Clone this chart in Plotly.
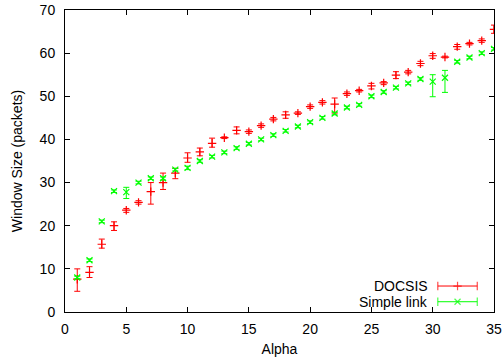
import plotly.graph_objects as go

# Alpha values (x axis)
alpha = list(range(1, 36))

# DOCSIS: mean window size with upper / lower error extents
docsis = [7.6, 9.2, 15.7, 20.0, 23.6, 25.4, 27.9, 30.0, 32.2, 35.7,
          37.1, 39.1, 40.4, 42.1, 41.8, 43.2, 44.7, 45.7, 46.1, 47.6,
          48.6, 48.2, 50.6, 51.3, 52.4, 53.1, 54.9, 55.6, 57.6, 59.4,
          59.1, 61.5, 62.2, 62.9, 65.5]
docsis_hi = [10.0, 10.5, 16.9, 20.9, 24.0, 25.8, 30.0, 32.2, 33.3, 36.9,
             38.0, 40.3, 40.6, 42.9, 42.2, 43.6, 45.1, 46.4, 46.4, 48.0,
             49.0, 49.6, 51.0, 51.6, 53.0, 53.4, 55.7, 56.0, 58.1, 59.9,
             59.3, 62.0, 62.5, 63.3, 66.5]
docsis_lo = [4.8, 8.0, 14.8, 18.9, 23.1, 25.0, 25.0, 28.4, 30.9, 34.7,
             36.2, 38.2, 40.2, 41.3, 41.4, 42.8, 44.3, 44.9, 45.8, 47.2,
             48.2, 46.1, 50.2, 51.0, 51.7, 52.7, 54.1, 55.2, 57.1, 58.8,
             58.9, 60.9, 61.9, 62.5, 64.6]

# Simple link: mean window size with upper / lower error extents
simple = [8.0, 12.0, 21.0, 28.0, 27.8, 30.0, 31.0, 31.0, 33.0, 33.4,
          35.0, 36.0, 37.0, 38.0, 39.0, 40.0, 41.0, 42.0, 43.0, 44.0,
          45.0, 46.0, 47.4, 48.0, 50.0, 51.0, 52.0, 53.0, 54.0, 53.4,
          54.3, 58.0, 59.0, 60.0, 61.0]
simple_hi = [8.3, 12.3, 21.3, 28.3, 28.9, 30.3, 31.3, 31.3, 33.3, 33.8,
             35.3, 36.3, 37.3, 38.3, 39.3, 40.3, 41.3, 42.3, 43.3, 44.3,
             45.3, 46.3, 47.7, 48.3, 50.3, 51.3, 52.3, 53.3, 54.3, 55.0,
             56.0, 58.3, 59.3, 60.3, 61.3]
simple_lo = [7.7, 11.7, 20.7, 27.7, 26.3, 29.7, 30.7, 30.6, 32.7, 33.0,
             34.7, 35.7, 36.7, 37.7, 38.7, 39.7, 40.7, 41.7, 42.7, 43.7,
             44.7, 45.7, 47.1, 47.7, 49.7, 50.7, 51.7, 52.7, 53.7, 49.9,
             50.9, 57.7, 58.7, 59.7, 60.7]

series_names = ["DOCSIS", "Simple link"]
RED = "#ff0000"
GREEN = "#00ff00"

FONT = "Liberation Sans, Arial, sans-serif"


def err(vals, hi, lo, col):
    return dict(type="data", symmetric=False,
                array=[h - v for h, v in zip(hi, vals)],
                arrayminus=[v - l for v, l in zip(vals, lo)],
                color=col, thickness=1, width=3)


fig = go.Figure()

for name, vals, hi, lo, col, sym in [
    (series_names[0], docsis, docsis_hi, docsis_lo, RED, "cross-thin"),
    (series_names[1], simple, simple_hi, simple_lo, GREEN, "x-thin"),
]:
    fig.add_trace(go.Scatter(
        x=alpha, y=vals, mode="markers", name=name, showlegend=False,
        marker=dict(symbol=sym, size=6, color=col,
                    line=dict(color=col, width=1.2)),
        error_y=err(vals, hi, lo, col),
    ))

# Key: label on the left, errorbar sample on the right (drawn on an overlay axis in [0,1])
key_rows = [(series_names[0], 0.086, RED, "cross-thin"),
            (series_names[1], 0.034, GREEN, "x-thin")]
for name, yk, col, sym in key_rows:
    fig.add_trace(go.Scatter(
        x=[0.869, 0.915, 0.961], y=[yk, yk, yk], xaxis="x2", yaxis="y2",
        mode="lines+markers", showlegend=False, hoverinfo="skip",
        line=dict(color=col, width=1),
        marker=dict(symbol=["line-ns", sym, "line-ns"], size=[6, 6, 6],
                    color=col, line=dict(color=col, width=1.2)),
    ))
    fig.add_annotation(x=0.851, y=yk, xref="x2", yref="y2", text=name,
                       showarrow=False, xanchor="right", yanchor="middle",
                       font=dict(family=FONT, size=14, color="#000000"))

axis_common = dict(
    showline=True, linecolor="#000000", linewidth=1, mirror="ticks",
    ticks="inside", ticklen=5, tickcolor="#000000", tickwidth=1,
    showgrid=False, zeroline=False, automargin=False,
    tickfont=dict(family=FONT, size=14, color="#000000"),
)

fig.update_layout(
    width=504, height=359,
    margin=dict(l=65, r=10, t=10, b=47),
    paper_bgcolor="white", plot_bgcolor="white",
    font=dict(family=FONT, size=14, color="#000000"),
    xaxis=dict(range=[0, 35], dtick=5, tick0=0, ticklabelstandoff=4,
               title=dict(text="Alpha", standoff=8,
                          font=dict(family=FONT, size=14)),
               **axis_common),
    yaxis=dict(range=[0, 70], dtick=10, tick0=0, ticklabelstandoff=6,
               title=dict(text="Window Size (packets)", standoff=13,
                          font=dict(family=FONT, size=14)),
               **axis_common),
    xaxis2=dict(overlaying="x", range=[0, 1], visible=False),
    yaxis2=dict(overlaying="y", range=[0, 1], visible=False),
)

fig.write_html("out.html")
